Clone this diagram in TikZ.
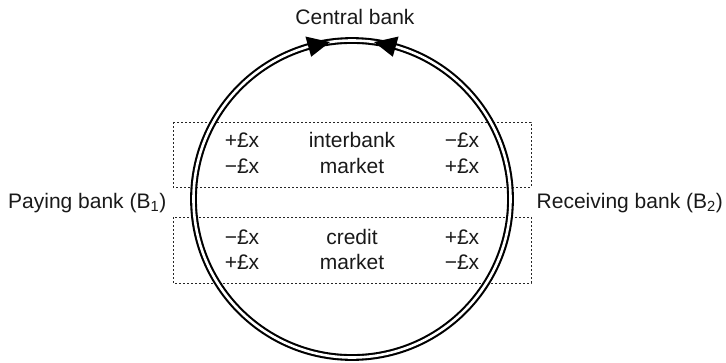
\documentclass[tikz,border=0pt]{standalone}
\usepackage{fontspec}
\setmainfont{Liberation Sans}
\begin{document}
\begin{tikzpicture}[x=1pt,y=-1pt,
  lbl/.style={font=\fontsize{21}{24}\selectfont, text=black!90, inner sep=0pt},
  dotbox/.style={draw=black!85, line width=0.9pt, dash pattern=on 1.6pt off 2.4pt},
  ring/.style={draw=black, double=white, line width=2.1pt, double distance=2.6pt},
  tip/.style={fill=black}]
\useasboundingbox (0,0) rectangle (726,362);
% dotted boxes
\draw[dotbox] (173,122) rectangle (531,187);
\draw[dotbox] (173,217) rectangle (531,283);
% ring
\begin{scope}[shift={(352,199)}, x=1pt, y=1pt]
  \draw[ring] (0,0) circle[radius=158.5];
  \fill[tip] (98:158.5) -- (106:169) -- (106:148) -- cycle;
  \fill[tip] (82:158.5) -- (74:169) -- (74:148) -- cycle;
\end{scope}
% labels
\node[lbl] (cb) at (355,17) {Central bank};
\node[lbl, anchor=west] (pb) at (8,203) {Paying bank (B\textsubscript{1})};
\node[lbl, anchor=east] (rb) at (723,203) {Receiving bank (B\textsubscript{2})};
% interbank market
\node[lbl] (a1) at (242,140) {+£x};
\node[lbl] (a2) at (352,140) {interbank};
\node[lbl] (a3) at (462,140) {−£x};
\node[lbl] (b1) at (242,166) {−£x};
\node[lbl] (b2) at (352,166) {market};
\node[lbl] (b3) at (462,166) {+£x};
% credit market
\node[lbl] (c1) at (242,237) {−£x};
\node[lbl] (c2) at (352,237) {credit};
\node[lbl] (c3) at (462,237) {+£x};
\node[lbl] (d1) at (242,262) {+£x};
\node[lbl] (d2) at (352,262) {market};
\node[lbl] (d3) at (462,262) {−£x};
\end{tikzpicture}
\end{document}
